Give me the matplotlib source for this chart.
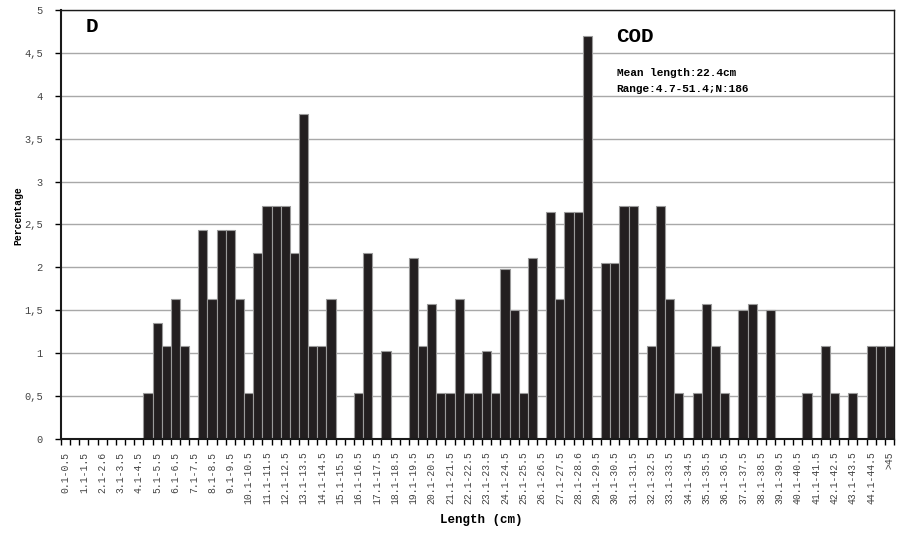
import numpy as np
import matplotlib.pyplot as plt

# percentage per 0.5 cm length class (0.1-0.5 ... 44.6-45.0, >45)
pct = [0, 0, 0, 0, 0, 0, 0, 0, 0, 0.54,
       1.35, 1.08, 1.63, 1.08, 0, 2.44, 1.63, 2.44, 2.44, 1.63,
       0.54, 2.17, 2.71, 2.71, 2.71, 2.17, 3.79, 1.08, 1.08, 1.63,
       0, 0, 0.54, 2.17, 0, 1.03, 0, 0, 2.11, 1.08,
       1.57, 0.54, 0.54, 1.63, 0.54, 0.54, 1.03, 0.54, 1.98, 1.50,
       0.54, 2.11, 0, 2.65, 1.63, 2.65, 2.65, 4.70, 0, 2.05,
       2.05, 2.71, 2.71, 0, 1.08, 2.71, 1.63, 0.54, 0, 0.54,
       1.57, 1.08, 0.54, 0, 1.50, 1.57, 0, 1.50, 0, 0,
       0, 0.54, 0, 1.08, 0.54, 0, 0.54, 0, 1.08, 1.08,
       1.08]

# labels shown on every second class
tick_labels = ['0.1-0.5', '1.1-1.5', '2.1-2.6', '3.1-3.5', '4.1-4.5',
               '5.1-5.5', '6.1-6.5', '7.1-7.5', '8.1-8.5', '9.1-9.5',
               '10.1-10.5', '11.1-11.5', '12.1-12.5', '13.1-13.5', '14.1-14.5',
               '15.1-15.5', '16.1-16.5', '17.1-17.5', '18.1-18.5', '19.1-19.5',
               '20.1-20.5', '21.1-21.5', '22.1-22.5', '23.1-23.5', '24.1-24.5',
               '25.1-25.5', '26.1-26.5', '27.1-27.5', '28.1-28.6', '29.1-29.5',
               '30.1-30.5', '31.1-31.5', '32.1-32.5', '33.1-33.5', '34.1-34.5',
               '35.1-35.5', '36.1-36.5', '37.1-37.5', '38.1-38.5', '39.1-39.5',
               '40.1-40.5', '41.1-41.5', '42.1-42.5', '43.1-43.5', '44.1-44.5',
               '>45']
y_ticks = [0, 0.5, 1, 1.5, 2, 2.5, 3, 3.5, 4, 4.5, 5]
y_labels = ['0', '0,5', '1', '1,5', '2', '2,5', '3', '3,5', '4', '4,5', '5']

mono = 'Liberation Mono'
n = len(pct)
x = np.arange(n)

fig = plt.figure(figsize=(8.98, 5.34), dpi=100)
ax = fig.add_axes([61/898, 1 - 439/534, 833/898, 429/534])

ax.bar(x, pct, width=1.0, color='#231f20', edgecolor='#9a9a9a', linewidth=0.8)

ax.set_xlim(-0.5, n - 0.5)
ax.set_ylim(0, 5)
ax.set_axisbelow(True)
ax.yaxis.grid(True, color='#a8a8a8', linewidth=1.0)

# tick marks on class boundaries, labels on every second class
ax.set_xticks(np.arange(n + 1) - 0.5)
ax.set_xticklabels([])
ax.set_xticks(np.arange(0, n, 2), minor=True)
ax.set_xticklabels(tick_labels, minor=True, rotation=90, fontsize=7,
                   family=mono, color='#444444')
ax.tick_params(axis='x', which='major', direction='out', length=4, width=1)
ax.tick_params(axis='x', which='minor', length=0, pad=9)

ax.set_yticks(y_ticks)
ax.set_yticklabels(y_labels, fontsize=7.5, family=mono, color='#444444')
ax.tick_params(axis='y', direction='out', length=4, width=1, pad=9)

for s in ax.spines.values():
    s.set_color('#1a1a1a')
    s.set_linewidth(1.0)
ax.spines['left'].set_linewidth(1.5)
ax.spines['bottom'].set_linewidth(1.5)

ax.text(0.029, 0.949, 'D', transform=ax.transAxes, family=mono,
        fontweight='bold', fontsize=15, va='baseline')
ax.text(0.667, 0.925, 'COD', transform=ax.transAxes, family=mono,
        fontweight='bold', fontsize=15, va='baseline')
ax.text(0.667, 0.846, 'Mean length:22.4cm', transform=ax.transAxes,
        family=mono, fontweight='bold', fontsize=8, va='baseline')
ax.text(0.667, 0.809, 'Range:4.7-51.4;N:186', transform=ax.transAxes,
        family=mono, fontweight='bold', fontsize=8, va='baseline')

fig.text(481/898, 1 - 520/534, 'Length (cm)', family=mono, fontweight='bold',
         fontsize=9, ha='center', va='center')
fig.text(18/898, 1 - 216/534, 'Percentage', family=mono, fontweight='bold',
         fontsize=7, rotation=90, ha='center', va='center')

fig.savefig('out.png', dpi=100)
